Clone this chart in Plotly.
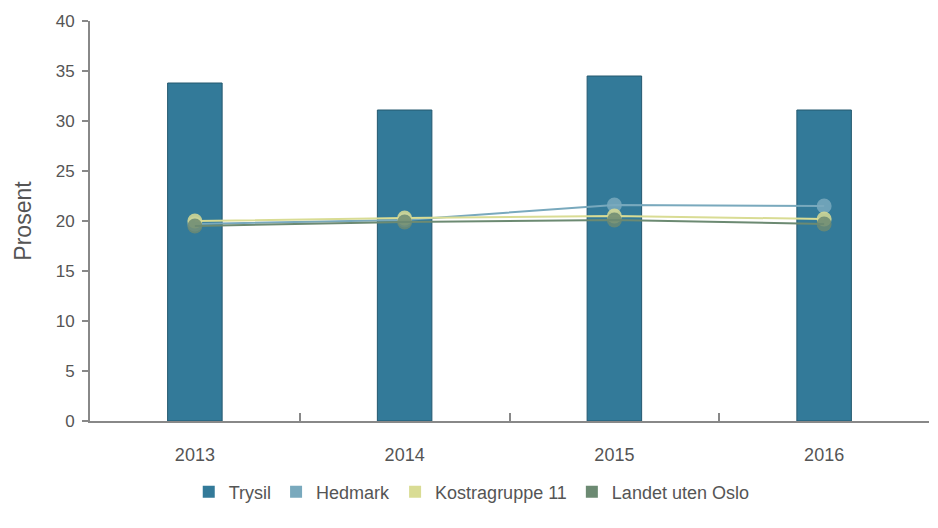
import plotly.graph_objects as go

years = ["2013", "2014", "2015", "2016"]
trysil = [33.8, 31.1, 34.5, 31.1]
hedmark = [19.7, 20.1, 21.6, 21.5]
kostra = [20.0, 20.3, 20.5, 20.2]
landet = [19.5, 19.9, 20.1, 19.7]

c_trysil = "#337a99"
c_hed = "#79a9bd"
c_kos = "#d9dc94"
c_lan = "#6c8a72"

fig = go.Figure()
fig.add_trace(go.Bar(x=years, y=trysil, name="Trysil", width=0.26,
                     marker=dict(color=c_trysil, line=dict(color="#24596f", width=1)),
                     showlegend=False))
for name, vals, col in [("Hedmark", hedmark, c_hed), ("Kostragruppe 11", kostra, c_kos),
                        ("Landet uten Oslo", landet, c_lan)]:
    fig.add_trace(go.Scatter(x=years, y=vals, name=name, mode="lines+markers",
                             line=dict(color=col, width=2),
                             marker=dict(color=col, size=15, opacity=0.85),
                             showlegend=False))
for name, col in [("Trysil", c_trysil), ("Hedmark", c_hed), ("Kostragruppe 11", c_kos),
                  ("Landet uten Oslo", c_lan)]:
    fig.add_trace(go.Scatter(x=[None], y=[None], name=name, mode="markers",
                             marker=dict(color=col, size=12, symbol="square")))

fig.update_layout(
    width=938, height=528,
    margin=dict(l=90, r=9, t=21, b=107, autoexpand=False),
    plot_bgcolor="white", paper_bgcolor="white",
    font=dict(family="Arial, Liberation Sans, sans-serif", color="#555555", size=17),
    legend=dict(orientation="h", x=0.455, xanchor="center", y=0.068, yanchor="middle",
                yref="container", font=dict(size=18, color="#555555"), itemwidth=30,
                tracegroupgap=0),
)
fig.update_xaxes(type="category", range=[-0.5, 3.5], showline=True, linecolor="#888888",
                 linewidth=2, ticks="inside", tickson="boundaries", ticklen=8,
                 tickcolor="#888888", tickwidth=2, showgrid=False, ticklabelstandoff=16,
                 automargin=False, tickfont=dict(size=18, color="#555555"))
fig.update_yaxes(range=[0, 40], dtick=5, showline=True, linecolor="#888888", linewidth=2,
                 ticks="outside", ticklen=6, tickcolor="#888888", tickwidth=2,
                 showgrid=False, zeroline=False, automargin=False, ticklabelstandoff=4,
                 title=dict(text="Prosent", font=dict(size=23, color="#555555"), standoff=18),
                 tickfont=dict(size=17, color="#555555"))

fig.write_html("out.html", post_script="document.body.style.margin='0';",
               config={"displayModeBar": False})
